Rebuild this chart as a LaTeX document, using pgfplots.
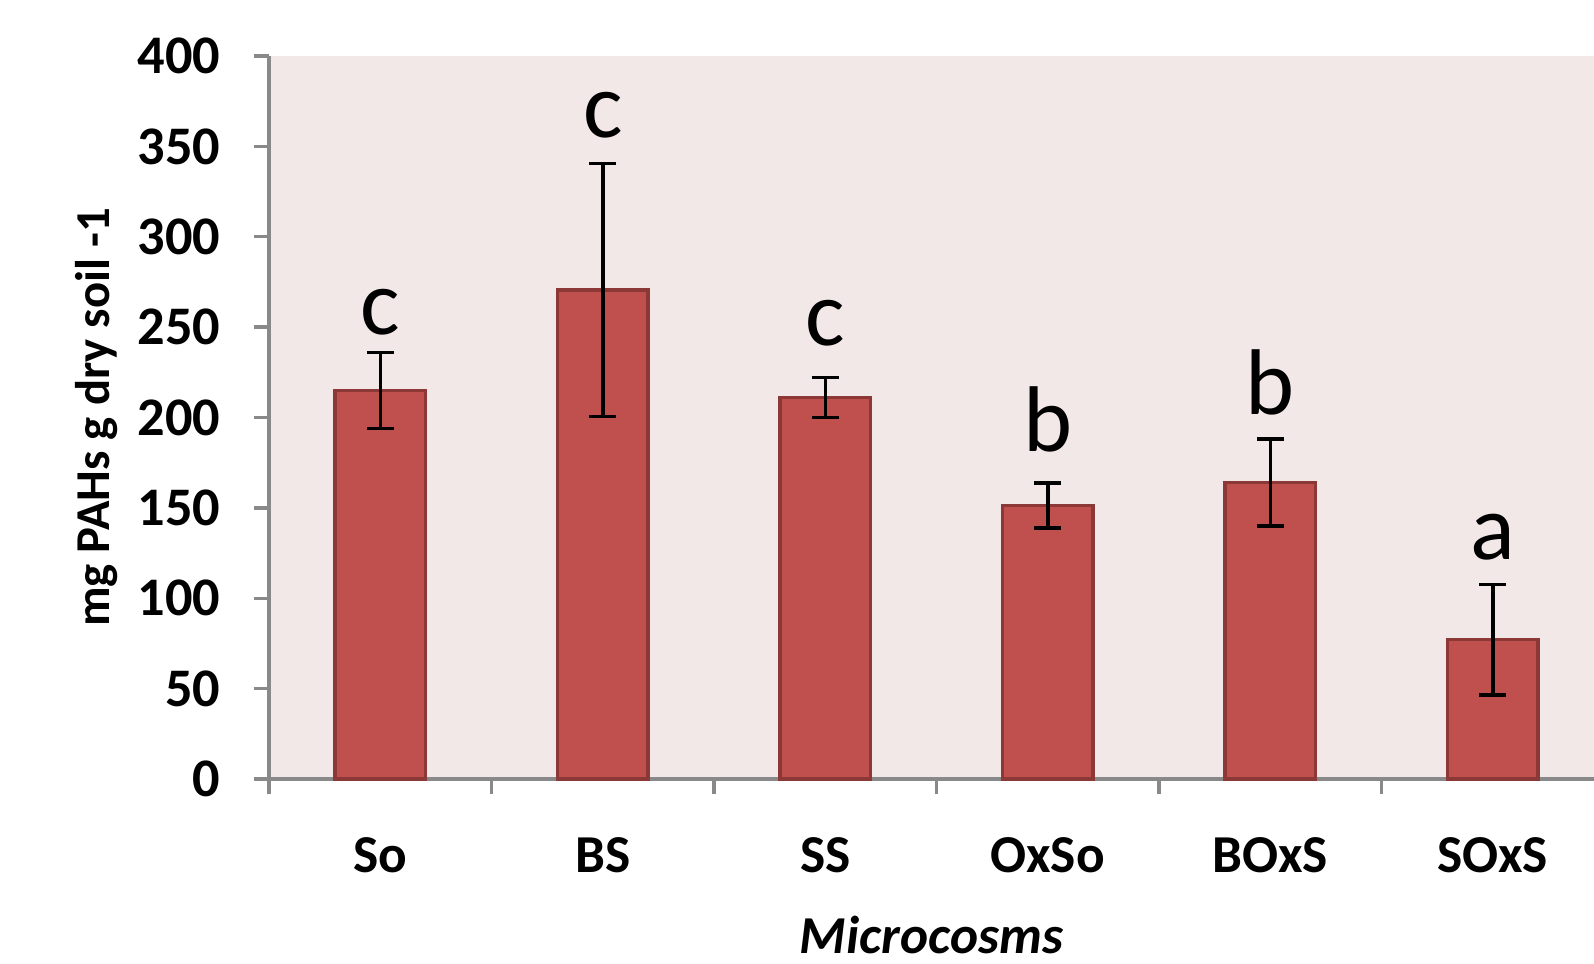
\documentclass[border=0pt]{standalone}
\usepackage{pgfplots}
\pgfplotsset{compat=1.18}
\usepackage{fontspec}
\setmainfont{Carlito}
\definecolor{barred}{HTML}{C0504D}
\definecolor{baredge}{HTML}{8C3836}
\definecolor{bgpink}{HTML}{F2E8E8}
\definecolor{axgray}{HTML}{898989}
\begin{document}
\begin{tikzpicture}
\useasboundingbox (-80.7pt,-55.2pt) rectangle (397.5pt,233.7pt);
\clip (-80.7pt,-55.2pt) rectangle (397.5pt,233.7pt);
\begin{axis}[
  at={(0,0)}, anchor=south west,
  scale only axis, width=397.5pt, height=216.9pt,
  xmin=-0.5, xmax=5.455, ymin=0, ymax=400,
  axis x line*=bottom, axis y line*=left,
  axis line style={draw=axgray, line width=1pt},
  axis background/.style={fill=bgpink},
  tick align=outside,
  major tick length=4.6pt,
  every tick/.style={axgray, line width=1pt},
  ytick={0,50,...,400},
  xtick={-0.5,0.5,1.5,2.5,3.5,4.5},
  xticklabels={},
  extra x ticks={0,1,2,3,4,5},
  extra x tick labels={So,BS,SS,OxSo,BOxS,SOxS},
  extra x tick style={major tick length=0pt, tick style={draw=none},
     xticklabel style={anchor=base, yshift=-28pt}},
  /pgf/number format/assume math mode=true,
  yticklabel style={font=\fontsize{16.3}{18}\selectfont\bfseries, anchor=east, xshift=-6.5pt},
  xticklabel style={font=\fontsize{16}{18}\selectfont\bfseries},
  clip=false,
]
\addplot[ybar, bar width=27.1pt, fill=barred, draw=baredge, line width=1pt,
  error bars/.cd, y dir=both, y explicit,
  error mark options={black, line width=1.05pt, mark size=4pt, rotate=90},
  error bar style={black, line width=1.05pt}]
coordinates {
 (0,215) +- (0,21)
 (1,270.5) +- (0,70)
 (2,211) +- (0,11)
 (3,151.3) +- (0,12.5)
 (4,164) +- (0,24)
 (5,77) +- (0,30.5)
};
\begin{scope}[every node/.style={font=\fontsize{28}{30}\selectfont, anchor=base, inner sep=0pt}]
\node at (axis cs:0,246) {c};
\node at (axis cs:1,355) {c};
\node at (axis cs:2,240) {c};
\node at (axis cs:3,181) {b};
\node at (axis cs:4,201.5) {b};
\node at (axis cs:5,121.6) {a};
\end{scope}
\node[rotate=90, anchor=center, inner sep=0pt, font=\fontsize{14.6}{16}\selectfont\bfseries]
  at ([xshift=-51.7pt]rel axis cs:0,0.5) {mg PAHs g dry soil -1};
\node[anchor=base, inner sep=0pt, font=\fontsize{16}{18}\selectfont\bfseries\itshape]
  at ([yshift=-52.3pt]rel axis cs:0.5,0) {Microcosms};
\end{axis}
\end{tikzpicture}
\end{document}
